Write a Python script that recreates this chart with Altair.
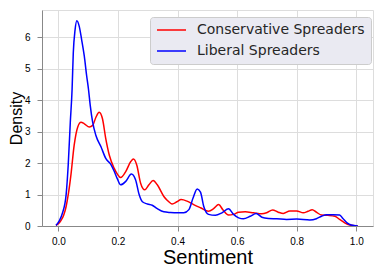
import altair as alt
import pandas as pd

# Conservative Spreaders KDE
cons_x = [-0.008, 0.0, 0.009, 0.018, 0.026, 0.034, 0.042, 0.053, 0.065, 0.076, 0.087,
          0.104, 0.115, 0.126, 0.137, 0.148, 0.159, 0.171, 0.187, 0.198, 0.209, 0.226,
          0.243, 0.252, 0.263, 0.276, 0.290, 0.304, 0.318, 0.332, 0.354, 0.365, 0.382,
          0.398, 0.412, 0.432, 0.454, 0.477, 0.504, 0.521, 0.538, 0.552, 0.571, 0.588,
          0.605, 0.627, 0.655, 0.683, 0.699, 0.719, 0.738, 0.755, 0.777, 0.800, 0.822,
          0.838, 0.852, 0.866, 0.883, 0.905, 0.928, 0.944, 0.961, 0.978, 0.994, 1.005]
cons_y = [0.02, 0.07, 0.18, 0.35, 0.62, 1.05, 1.62, 2.57, 3.15, 3.30, 3.25,
          3.15, 3.20, 3.46, 3.62, 3.41, 2.78, 2.25, 1.84, 1.65, 1.54, 1.73,
          2.05, 2.13, 1.94, 1.36, 1.15, 1.31, 1.45, 1.31, 0.94, 0.82, 0.70,
          0.77, 0.84, 0.79, 0.68, 0.58, 0.47, 0.55, 0.68, 0.52, 0.35, 0.37,
          0.44, 0.45, 0.42, 0.39, 0.42, 0.51, 0.44, 0.40, 0.48, 0.48, 0.42,
          0.47, 0.52, 0.44, 0.35, 0.34, 0.31, 0.21, 0.10, 0.03, 0.01, 0.0]

# Liberal Spreaders KDE
lib_x = [-0.008, 0.003, 0.014, 0.026, 0.033, 0.040, 0.046, 0.050, 0.056, 0.062, 0.070,
         0.078, 0.087, 0.095, 0.101, 0.107, 0.115, 0.126, 0.143, 0.159, 0.176, 0.187,
         0.198, 0.209, 0.226, 0.245, 0.259, 0.271, 0.282, 0.299, 0.315, 0.332, 0.354,
         0.376, 0.399, 0.421, 0.438, 0.452, 0.466, 0.477, 0.488, 0.504, 0.527, 0.549,
         0.571, 0.588, 0.605, 0.621, 0.644, 0.664, 0.683, 0.705, 0.733, 0.766, 0.800,
         0.844, 0.866, 0.883, 0.900, 0.922, 0.944, 0.955, 0.969, 0.983, 1.005]
lib_y = [0.02, 0.16, 0.42, 1.0, 1.94, 3.3, 4.35, 5.5, 6.24, 6.53, 6.35,
         5.93, 5.40, 4.77, 4.35, 3.83, 3.30, 2.88, 2.52, 2.15, 1.96, 1.75,
         1.50, 1.31, 1.42, 1.65, 1.47, 1.0, 0.77, 0.70, 0.66, 0.55, 0.45,
         0.43, 0.42, 0.42, 0.52, 0.89, 1.18, 1.08, 0.62, 0.37, 0.34, 0.42,
         0.55, 0.37, 0.26, 0.23, 0.31, 0.40, 0.28, 0.24, 0.23, 0.21, 0.22,
         0.19, 0.23, 0.31, 0.36, 0.36, 0.35, 0.24, 0.10, 0.03, 0.0]

series = ["Conservative Spreaders", "Liberal Spreaders"]
colors = ["#ff0000", "#0000ff"]

df = pd.concat([
    pd.DataFrame({"Sentiment": cons_x, "Density": cons_y, "group": series[0], "order": range(len(cons_x))}),
    pd.DataFrame({"Sentiment": lib_x, "Density": lib_y, "group": series[1], "order": range(len(lib_x))}),
])

font = "DejaVu Sans"

chart = alt.Chart(df).mark_line(strokeWidth=1.5, interpolate="monotone", clip=True).encode(
    x=alt.X("Sentiment:Q", title="Sentiment",
            scale=alt.Scale(domain=[-0.055, 1.056], nice=False, zero=False),
            axis=alt.Axis(values=[0.0, 0.2, 0.4, 0.6, 0.8, 1.0], format=".1f",
                          labelPadding=5, titlePadding=1, titleFontSize=20,
                          titleFontWeight="normal")),
    y=alt.Y("Density:Q", title="Density",
            scale=alt.Scale(domain=[0, 6.87], nice=False),
            axis=alt.Axis(values=[0, 1, 2, 3, 4, 5, 6], format="d",
                          labelPadding=7, titlePadding=0, titleFontSize=16,
                          titleFontWeight="normal")),
    color=alt.Color("group:N", title=None,
                    scale=alt.Scale(domain=series, range=colors),
                    legend=alt.Legend(orient="none", legendX=108, legendY=7,
                                      symbolType="stroke", symbolSize=841,
                                      symbolStrokeWidth=1.5, clipHeight=14,
                                      rowPadding=7, labelFontSize=14, labelOffset=10,
                                      labelLimit=400,
                                      labelFont=font, labelColor="#262626",
                                      fillColor="#eaeaf2", strokeColor="#cccccc",
                                      padding=6, cornerRadius=3)),
    order="order:Q",
).properties(
    width=369, height=259,
    autosize=alt.AutoSizeParams(type="fit", contains="padding"),
    padding={"left": 0, "top": 2, "right": 4, "bottom": 0},
).configure_view(
    fill="#eaeaf2", stroke=None
).configure_axis(
    domain=False, ticks=False, tickSize=0, grid=True, gridColor="#ffffff", gridWidth=1,
    labelFont=font, titleFont=font, labelFontSize=10, labelColor="#262626",
    titleColor="#262626"
).configure(background="#ffffff")

chart.save("out.html", embed_options={"renderer": "svg", "actions": False})
